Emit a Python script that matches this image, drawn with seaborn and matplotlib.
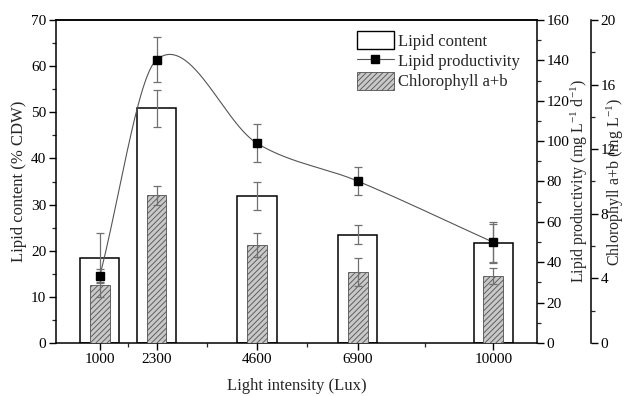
import numpy as np
import pandas as pd
import matplotlib
matplotlib.use("Agg")
import matplotlib.pyplot as plt
import seaborn as sns
from matplotlib.patches import Patch
from matplotlib.lines import Line2D
from matplotlib.ticker import MultipleLocator, FixedLocator

# ---- data ----
light = [1000, 2300, 4600, 6900, 10000]
lipid_content = [18.5, 50.9, 31.9, 23.5, 21.6]
lipid_content_err = [5.3, 4.0, 3.1, 2.0, 4.2]
productivity = [33.2, 140.3, 98.9, 80.2, 49.9]
productivity_err = [3.5, 11.1, 9.4, 6.9, 9.8]
chlorophyll = [3.57, 9.14, 6.09, 4.42, 4.13]
chlorophyll_err = [0.74, 0.60, 0.74, 0.87, 0.50]
minor_x = [1650, 3450, 5750, 8450]

df = pd.DataFrame({"light": light, "lipid": lipid_content,
                   "prod": productivity, "chl": chlorophyll})

sns.set_style("ticks")
plt.rcParams["font.family"] = ["Liberation Serif", "DejaVu Serif"]
plt.rcParams["mathtext.fontset"] = "custom"
plt.rcParams["mathtext.rm"] = "Liberation Serif"
plt.rcParams["mathtext.it"] = "Liberation Serif:italic"
plt.rcParams["hatch.linewidth"] = 0.6
FS = 11
LFS = 12
RFS = 11.5

fig = plt.figure(figsize=(6.25, 3.96), dpi=100)
ax1 = fig.add_axes([56/625, 1-343/396, (537-56)/625, (343-20)/396])
ax3 = ax1.twinx()
ax2 = ax1.twinx()

# lipid content bars
sns.barplot(data=df, x="light", y="lipid", native_scale=True, ax=ax1,
            width=900/1300, color="white", edgecolor="black", linewidth=1.1,
            errorbar=None, saturation=1)
ax1.errorbar(light, lipid_content, yerr=lipid_content_err, fmt="none",
             ecolor="#707070", elinewidth=0.9, capsize=3, capthick=0.9, zorder=5)

# chlorophyll bars
sns.barplot(data=df, x="light", y="chl", native_scale=True, ax=ax3,
            width=450/1300, color="#c8c8c8", edgecolor="#505050", linewidth=0.6,
            hatch="//////", errorbar=None, saturation=1)
ax3.errorbar(light, chlorophyll, yerr=chlorophyll_err, fmt="none",
             ecolor="#707070", elinewidth=0.9, capsize=3, capthick=0.9, zorder=5)

# productivity smooth connecting curve (cardinal / Catmull-Rom Hermite spline)
xs = np.array(light, float)
ys = np.array(productivity, float)
n = len(xs)
m = np.zeros(n)
m[0] = (ys[1] - ys[0]) / (xs[1] - xs[0])
m[-1] = (ys[-1] - ys[-2]) / (xs[-1] - xs[-2])
for i in range(1, n - 1):
    m[i] = (ys[i + 1] - ys[i - 1]) / (xs[i + 1] - xs[i - 1])
cx, cy = [], []
for i in range(n - 1):
    h = xs[i + 1] - xs[i]
    t = np.linspace(0, 1, 80)
    h00 = 2*t**3 - 3*t**2 + 1
    h10 = t**3 - 2*t**2 + t
    h01 = -2*t**3 + 3*t**2
    h11 = t**3 - t**2
    cx.append(xs[i] + t*h)
    cy.append(h00*ys[i] + h10*h*m[i] + h01*ys[i+1] + h11*h*m[i+1])
cx = np.concatenate(cx); cy = np.concatenate(cy)
sns.lineplot(x=cx, y=cy, ax=ax2, color="#555555", linewidth=0.8, sort=False)
ax2.errorbar(light, productivity, yerr=productivity_err, fmt="s", color="black",
             markersize=5.5, ecolor="#707070", elinewidth=0.9, capsize=3,
             capthick=0.9, zorder=6)

# axes limits / ticks
for ax in (ax1, ax2, ax3):
    ax.set_xlim(0, 11000)
ax1.set_ylim(0, 70)
ax2.set_ylim(0, 160)
ax3.set_ylim(0, 20)

ax1.xaxis.set_major_locator(FixedLocator(light))
ax1.xaxis.set_minor_locator(FixedLocator(minor_x))
ax1.set_xticklabels([str(v) for v in light])
ax1.yaxis.set_major_locator(MultipleLocator(10))
ax1.yaxis.set_minor_locator(MultipleLocator(5))
ax2.yaxis.set_major_locator(MultipleLocator(20))
ax2.yaxis.set_minor_locator(MultipleLocator(10))
ax3.yaxis.set_major_locator(MultipleLocator(4))
ax3.yaxis.set_minor_locator(MultipleLocator(2))

for ax in (ax1, ax2, ax3):
    ax.tick_params(which="major", direction="out", length=5, width=1.0,
                   labelsize=FS, colors="black", pad=2)
    ax.tick_params(which="minor", direction="out", length=3, width=0.9)
    for s in ax.spines.values():
        s.set_linewidth(1.1)
        s.set_color("black")

ax1.tick_params(axis="y", which="both", right=False)
ax1.spines["top"].set_visible(True)
ax1.spines["right"].set_visible(False)
ax2.spines["top"].set_visible(True)
ax2.spines["left"].set_visible(False)
ax2.spines["bottom"].set_visible(False)
ax3.spines["top"].set_visible(False)
ax3.spines["left"].set_visible(False)
ax3.spines["bottom"].set_visible(False)
ax3.spines["right"].set_position(("outward", 54 * 72 / 100))

ax1.set_xlabel("Light intensity (Lux)", fontsize=LFS, labelpad=9)
ax1.set_ylabel("Lipid content (% CDW)", fontsize=LFS, labelpad=3)
ax2.set_ylabel(r"Lipid productivity (mg L$^{-1}$ d$^{-1}$)", fontsize=RFS)
ax3.set_ylabel(r"Chlorophyll a+b (mg L$^{-1}$)", fontsize=RFS)
ax2.yaxis.set_label_coords((569 - 56) / 481, 0.5)
ax3.yaxis.set_label_coords((605 - 56) / 481, 0.5)
ax2.set_xlabel("")
ax3.set_xlabel("")

handles = [
    Patch(facecolor="white", edgecolor="black", linewidth=1.0),
    Line2D([], [], color="#555555", linewidth=0.8, marker="s",
           markerfacecolor="black", markeredgecolor="black", markersize=5.5),
    Patch(facecolor="#c8c8c8", edgecolor="#505050", linewidth=0.6, hatch="//////"),
]
labels = ["Lipid content", "Lipid productivity", "Chlorophyll a+b"]
fig.legend(handles, labels, loc="upper left", bbox_to_anchor=(357/625, 1-31/396),
           frameon=False, fontsize=LFS, handlelength=2.2, handleheight=1.3,
           handletextpad=0.25, labelspacing=0.1, borderpad=0, borderaxespad=0)

fig.savefig("out.png", dpi=100)
